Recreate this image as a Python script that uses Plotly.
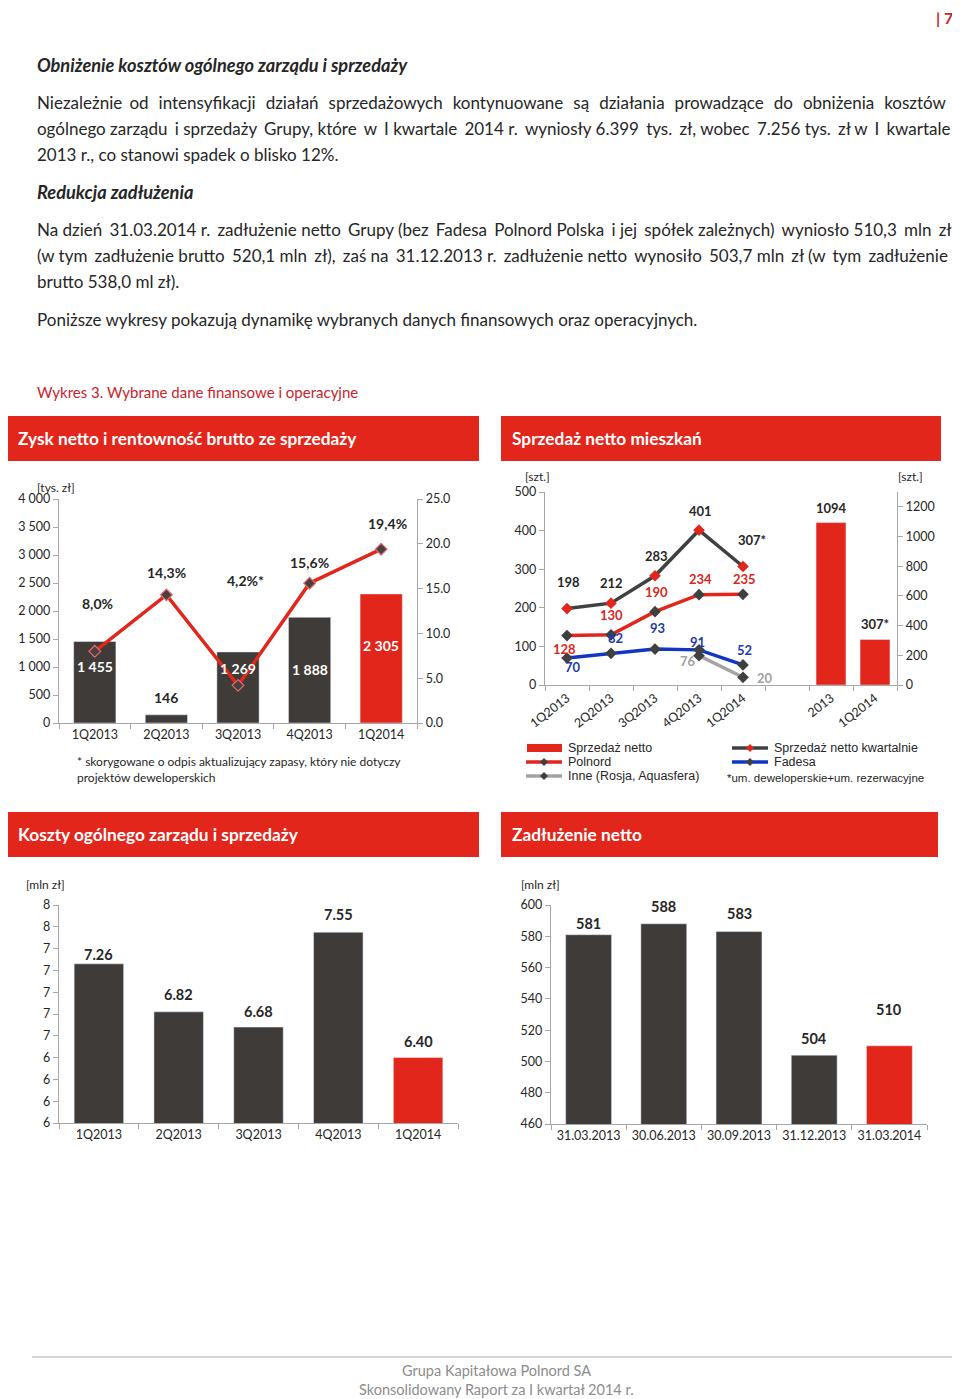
import plotly.graph_objects as go

# page body has an 8px margin; the figure is sized/positioned so the page matches 960x1399
OFF = 8
W, H = 960 - OFF, 1399 - OFF
FONT = "Lato"
RED = "#e2261c"
DARK = "#3e3b39"
BLUE = "#1236c4"
GREY = "#a3a3a3"
AX = "#a6a6a6"
TXT = "#262626"

# ---------------- data ----------------
quarters = ["1Q2013", "2Q2013", "3Q2013", "4Q2013", "1Q2014"]
zysk_netto = [1455, 146, 1269, 1888, 2305]
rentownosc = [8.0, 14.3, 4.2, 15.6, 19.4]
rentownosc_labels = ["8,0%", "14,3%", "4,2%*", "15,6%", "19,4%"]

sprzedaz_kwartalnie = [198, 212, 283, 401, 307]
sprzedaz_kw_labels = ["198", "212", "283", "401", "307*"]
polnord = [128, 130, 190, 234, 235]
fadesa = [70, 82, 93, 91, 52]
inne_quarters = ["4Q2013", "1Q2014"]
inne = [76, 20]
annual_cats = ["2013", "1Q2014"]
sprzedaz_netto = [1094, 307]
sprzedaz_netto_labels = ["1094", "307*"]

koszty = [7.26, 6.82, 6.68, 7.55, 6.40]

dates = ["31.03.2013", "30.06.2013", "30.09.2013", "31.12.2013", "31.03.2014"]
zadluzenie = [581, 588, 583, 504, 510]


def px(x):
    return (x - OFF) / W


def py(y):
    return 1 - (y - OFF) / H


fig = go.Figure()
ann = []
shapes = []


def text(x, y, s, size=15, color=TXT, bold=False, italic=False, anchor="left", family=FONT):
    if bold:
        s = "<b>" + s + "</b>"
    if italic:
        s = "<i>" + s + "</i>"
    ann.append(dict(x=px(x), y=py(y), xref="paper", yref="paper", text=s, showarrow=False,
                    xanchor=anchor, yanchor="middle",
                    font=dict(family=family, size=size, color=color)))


BODY = 17


def justify(line, extra_px):
    """widen word gaps with six-per-em spaces to mimic the justified paragraph"""
    words = line.split(" ")
    gaps = len(words) - 1
    unit = BODY * 0.185
    k = int(round(extra_px / unit))
    out = words[0]
    for i in range(gaps):
        n = (k * (i + 1)) // gaps - (k * i) // gaps
        out += " " + "\u2006" * n + words[i + 1]
    return out


# ---------------- page text ----------------
text(955, 17, "| 7", size=16, color="#c0282d", bold=True, anchor="right")
text(35, 65, "Obniżenie kosztów ogólnego zarządu i sprzedaży", size=18.2, bold=True, italic=True)
body1 = [
    "Niezależnie od intensyfikacji działań sprzedażowych kontynuowane są działania prowadzące do obniżenia kosztów",
    "ogólnego zarządu i sprzedaży Grupy, które w I kwartale 2014 r. wyniosły 6.399 tys. zł, wobec 7.256 tys. zł w I kwartale",
    "2013 r., co stanowi spadek o blisko 12%.",
]
body1_extra = [66, 37, 0]
for i, (line, ex) in enumerate(zip(body1, body1_extra)):
    text(35, 103 + 26 * i, justify(line, ex), size=BODY)
text(35, 192, "Redukcja zadłużenia", size=18.2, bold=True, italic=True)
body2 = [
    "Na dzień 31.03.2014 r. zadłużenie netto Grupy (bez Fadesa Polnord Polska i jej spółek zależnych) wyniosło 510,3 mln zł",
    "(w tym zadłużenie brutto 520,1 mln zł), zaś na 31.12.2013 r. zadłużenie netto wynosiło 503,7 mln zł (w tym zadłużenie",
    "brutto 538,0 ml zł).",
]
body2_extra = [30, 36, 0]
for i, (line, ex) in enumerate(zip(body2, body2_extra)):
    text(35, 229 + 26 * i, justify(line, ex), size=BODY)
text(35, 319, "Poniższe wykresy pokazują dynamikę wybranych danych finansowych oraz operacyjnych.", size=BODY)
text(35, 392, "Wykres 3. Wybrane dane finansowe i operacyjne", size=15, color="#c8232c")

# header bars
for (x0, y0, x1, y1, t) in [
    (7, 416, 479, 461, "Zysk netto i rentowność brutto ze sprzedaży"),
    (501, 416, 941, 461, "Sprzedaż netto mieszkań"),
    (7, 812, 479, 857, "Koszty ogólnego zarządu i sprzedaży"),
    (501, 812, 938, 857, "Zadłużenie netto"),
]:
    shapes.append(dict(type="rect", xref="paper", yref="paper", x0=px(x0), x1=px(x1), y0=py(y1), y1=py(y0),
                       fillcolor=RED, line=dict(width=0), layer="below"))
    text(x0 + 9, (y0 + y1) / 2, t, size=17.3, color="white", bold=True)

# footer
shapes.append(dict(type="line", xref="paper", yref="paper", x0=px(32), x1=px(960), y0=py(1357), y1=py(1357),
                   line=dict(color="#d4d4d4", width=2)))
text(497, 1370, "Grupa Kapitałowa Polnord SA", size=14.5, color="#8c8c8c", anchor="center")
text(497, 1389, "Skonsolidowany Raport za I kwartał 2014 r.", size=14.5, color="#8c8c8c", anchor="center")

# ---------------- common axis style ----------------
def yax(domain_px, rng, **kw):
    d = dict(domain=[py(domain_px[1]), py(domain_px[0])], range=rng, showline=True, linecolor=AX,
             linewidth=1.3, ticks="outside", ticklen=5, tickcolor=AX, showgrid=False, zeroline=False,
             automargin=False,
             tickfont=dict(family=FONT, size=12.5, color=TXT), fixedrange=True)
    d.update(kw)
    return d


def xcat(domain_px, anchor, **kw):
    d = dict(domain=[px(domain_px[0]), px(domain_px[1])], anchor=anchor, type="category",
             tickson="boundaries", showline=True, linecolor=AX, linewidth=1.3, ticks="outside",
             ticklen=5, tickcolor=AX, showgrid=False, automargin=False,
             tickfont=dict(family=FONT, size=12.5, color=TXT))
    d.update(kw)
    return d


# ---------------- chart 1: Zysk netto ----------------
fig.add_trace(go.Bar(x=quarters, y=zysk_netto, marker_color=[DARK, DARK, DARK, DARK, RED],
                     width=0.59, xaxis="x", yaxis="y", showlegend=False))
fig.add_trace(go.Scatter(x=quarters, y=rentownosc, mode="lines+markers", xaxis="x", yaxis="y2",
                         line=dict(color=RED, width=3.5),
                         marker=dict(symbol="diamond", size=9, color="#4a3f3f", line=dict(color="#e46a6a", width=1.2)),
                         showlegend=False))
bar1_dy = [-25, 17, -17, -52, -52]
bar1_col = ["white", TXT, "white", "white", "white"]
for q, v, dy, c in zip(quarters, zysk_netto, bar1_dy, bar1_col):
    ann.append(dict(x=q, y=v, xref="x", yref="y", text="<b>" + f"{v:,}".replace(",", " ") + "</b>",
                    showarrow=False, yshift=dy, font=dict(family=FONT, size=14, color=c)))
pct_dy = [48, 22, 105, 21, 26]
pct_dx = [3, 0, 7, 0, 6]
for q, v, s, dy, dx in zip(quarters, rentownosc, rentownosc_labels, pct_dy, pct_dx):
    ann.append(dict(x=q, y=v, xref="x", yref="y2", text="<b>" + s + "</b>", showarrow=False,
                    yshift=dy, xshift=dx, font=dict(family=FONT, size=14, color=TXT)))
text(56, 487, "[tys. zł]", size=12, anchor="center")
text(75, 761, "* skorygowane o odpis aktualizujący zapasy, który nie dotyczy", size=12)
text(75, 777, "projektów deweloperskich", size=12)

# ---------------- chart 2: Sprzedaż netto mieszkań ----------------
pos_q = list(range(len(quarters)))
pos_a = [len(quarters) + 1 + i for i in range(len(annual_cats))]
pos_inne = [quarters.index(q) for q in inne_quarters]

fig.add_trace(go.Bar(x=pos_a, y=sprzedaz_netto, marker_color=RED, width=0.68,
                     xaxis="x2", yaxis="y4", showlegend=False))
fig.add_trace(go.Scatter(x=pos_inne, y=inne, mode="lines+markers", xaxis="x2", yaxis="y3",
                         line=dict(color=GREY, width=3.5),
                         marker=dict(symbol="diamond", size=9, color="#404040"), showlegend=False))
fig.add_trace(go.Scatter(x=pos_q, y=fadesa, mode="lines+markers", xaxis="x2", yaxis="y3",
                         line=dict(color=BLUE, width=3.5),
                         marker=dict(symbol="diamond", size=9, color="#404040"), showlegend=False))
fig.add_trace(go.Scatter(x=pos_q, y=polnord, mode="lines+markers", xaxis="x2", yaxis="y3",
                         line=dict(color=RED, width=3.5),
                         marker=dict(symbol="diamond", size=9, color="#404040"), showlegend=False))
fig.add_trace(go.Scatter(x=pos_q, y=sprzedaz_kwartalnie, mode="lines+markers", xaxis="x2", yaxis="y3",
                         line=dict(color="#404040", width=3.5),
                         marker=dict(symbol="diamond", size=9, color=RED), showlegend=False))


def labels(xs, ys, texts, dys, dxs, color, yref):
    for x, y, s, dy, dx in zip(xs, ys, texts, dys, dxs):
        ann.append(dict(x=x, y=y, xref="x2", yref=yref, text="<b>" + s + "</b>", showarrow=False,
                        yshift=dy, xshift=dx, font=dict(family=FONT, size=13, color=color)))


labels(pos_q, sprzedaz_kwartalnie, sprzedaz_kw_labels, [27, 20, 20, 19, 27], [1, 0, 1, 1, 9], TXT, "y3")
labels(pos_q, polnord, [str(v) for v in polnord], [-13, 20, 20, 16, 15], [-3, 0, 1, 1, 1], "#d8261e", "y3")
labels(pos_q, fadesa, [str(v) for v in fadesa], [-9, 15, 21, 8, 15], [6, 4, 2, -2, 1], "#1e3aa8", "y3")
labels(pos_inne, inne, [str(v) for v in inne], [-5, -1], [-11, 22], "#a0a0a0", "y3")
labels(pos_a, sprzedaz_netto, sprzedaz_netto_labels, [15, 15], [0, 0], TXT, "y4")
text(537, 476, "[szt.]", size=12, anchor="center")
text(910, 476, "[szt.]", size=12, anchor="center")

# legend (drawn)
LF = "Liberation Sans"


def diamond(cx, cy, r, color):
    path = (f"M {px(cx)} {py(cy - r)} L {px(cx + r)} {py(cy)} L {px(cx)} {py(cy + r)} "
            f"L {px(cx - r)} {py(cy)} Z")
    shapes.append(dict(type="path", xref="paper", yref="paper", path=path, fillcolor=color,
                       line=dict(width=0)))


def leg_line(x0, y, color, mcolor):
    shapes.append(dict(type="line", xref="paper", yref="paper", x0=px(x0), x1=px(x0 + 36),
                       y0=py(y), y1=py(y), line=dict(color=color, width=3.5)))
    diamond(x0 + 18, y, 4, mcolor)


shapes.append(dict(type="rect", xref="paper", yref="paper", x0=px(527), x1=px(562), y0=py(752), y1=py(744),
                   fillcolor=RED, line=dict(width=0)))
leg_line(526, 762, RED, "#404040")
leg_line(526, 776, GREY, "#404040")
leg_line(732, 748, "#404040", RED)
leg_line(732, 762, BLUE, "#404040")
text(566, 748, "Sprzedaż netto", size=12.5, family=LF)
text(566, 762, "Polnord", size=12.5, family=LF)
text(566, 776, "Inne (Rosja, Aquasfera)", size=12.5, family=LF)
text(772, 748, "Sprzedaż netto kwartalnie", size=12.5, family=LF)
text(772, 762, "Fadesa", size=12.5, family=LF)
text(725, 778, "*um. deweloperskie+um. rezerwacyjne", size=11.5, family=LF)

# ---------------- chart 3: Koszty ----------------
fig.add_trace(go.Bar(x=quarters, y=koszty, marker_color=[DARK, DARK, DARK, DARK, RED], width=0.62,
                     xaxis="x3", yaxis="y5", showlegend=False))
for q, v, dy in zip(quarters, koszty, [9, 17, 16, 18, 16]):
    ann.append(dict(x=q, y=v, xref="x3", yref="y5", text=f"<b>{v:.2f}</b>", showarrow=False,
                    yshift=dy, font=dict(family=FONT, size=14.5, color=TXT)))
text(45, 884, "[mln zł]", size=12, anchor="center")

# ---------------- chart 4: Zadłużenie ----------------
fig.add_trace(go.Bar(x=dates, y=zadluzenie, marker_color=[DARK, DARK, DARK, DARK, RED], width=0.61,
                     xaxis="x4", yaxis="y6", showlegend=False))
for d, v, dy in zip(dates, zadluzenie, [11, 17, 18, 17, 36]):
    ann.append(dict(x=d, y=v, xref="x4", yref="y6", text=f"<b>{v}</b>", showarrow=False,
                    yshift=dy, font=dict(family=FONT, size=14.5, color=TXT)))
text(540, 884, "[mln zł]", size=12, anchor="center")

# ---------------- layout ----------------
fig.update_layout(
    width=W, height=H, margin=dict(l=0, r=0, t=0, b=0, pad=0, autoexpand=False),
    paper_bgcolor="white", plot_bgcolor="rgba(0,0,0,0)",
    separators=". ", showlegend=False, bargap=0.4,
    xaxis=xcat((59, 417), "y", range=[-0.5, 4.5]),
    yaxis=yax((499, 723), [0, 4000], anchor="x", dtick=500, tickformat=","),
    yaxis2=yax((499, 723), [0, 25], anchor="x", overlaying="y", side="right", dtick=5, tickformat=".1f"),
    xaxis2=dict(domain=[px(545), px(897)], anchor="y3", range=[-0.5, 7.5], tickmode="array",
                tickvals=pos_q + pos_a, ticktext=quarters + annual_cats, tickangle=-38, ticks="",
                showline=True, linecolor=AX, linewidth=1.3, showgrid=False, zeroline=False, automargin=False,
                tickfont=dict(family=FONT, size=12.5, color=TXT),
                minor=dict(ticks="outside", ticklen=5, tickcolor=AX, tick0=0.5, dtick=1, showgrid=False)),
    yaxis3=yax((492, 685), [0, 500], anchor="x2", dtick=100),
    yaxis4=yax((492, 685), [0, 1300], anchor="x2", overlaying="y3", side="right", dtick=200),
    xaxis3=xcat((59, 458), "y5", range=[-0.5, 4.5]),
    yaxis5=yax((905, 1123), [5.8, 7.8], anchor="x3", tick0=5.8, dtick=0.2, tickformat=".0f"),
    xaxis4=xcat((551, 927), "y6", range=[-0.5, 4.5]),
    yaxis6=yax((905, 1124), [460, 600], anchor="x4", dtick=20),
    annotations=ann, shapes=shapes,
)

fig.write_html("out.html")
